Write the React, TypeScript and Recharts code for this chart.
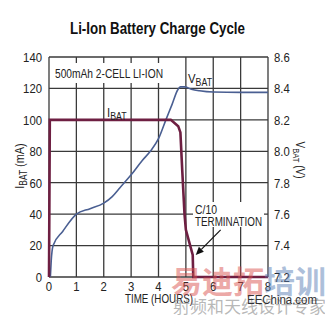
import React from 'react';
import { LineChart, Line, XAxis, YAxis, CartesianGrid, ReferenceLine } from 'recharts';

const FONT = "'Liberation Sans', Arial, sans-serif";
const CJK = "'Noto Sans CJK SC', sans-serif";
const SX = 0.84; // horizontal condensing of the Helvetica-Narrow-like lettering

// Time ticks (hours)
const timeTicks = [0, 1, 2, 3, 4, 5, 6, 7, 8];
// Left axis ticks (mA)
const currentTicks = [0, 20, 40, 60, 80, 100, 120, 140];
// Right axis ticks (V)
const voltageTicks = [7.2, 7.4, 7.6, 7.8, 8.0, 8.2, 8.4, 8.6];

// IBAT series
const currentHours = [0, 0.03, 4.45, 4.72, 4.8, 4.87, 4.95, 5.0, 5.25, 5.27, 8];
const currentMA = [0, 100, 100, 96, 92, 67, 40, 30, 14, 0, 0];

// VBAT series
const voltageHours = [0.05, 0.08, 0.15, 0.5, 1.0, 1.5, 2.0, 2.3, 2.6, 3.0, 3.4, 3.7, 4.0, 4.27, 4.5, 4.7, 4.8, 4.95, 5.2, 5.5, 6.0, 7.0, 8.0];
const voltageV = [7.2, 7.3, 7.4, 7.49, 7.6, 7.635, 7.67, 7.71, 7.77, 7.85, 7.94, 8.0, 8.08, 8.2, 8.3, 8.39, 8.41, 8.41, 8.395, 8.385, 8.377, 8.375, 8.375];

// C/10 termination arrow (tail -> head), in data units
const arrowFrom = { hour: 6.27, mA: 30 };
const arrowTo = { hour: 5.36, mA: 14 };

const currentData = currentHours.map((h, i) => ({ hour: h, mA: currentMA[i] }));
const voltageData = voltageHours.map((h, i) => ({ hour: h, v: voltageV[i] }));

const ArrowShape = (props: any) => {
  const { x1, y1, x2, y2 } = props;
  if ([x1, y1, x2, y2].some((v) => typeof v !== 'number' || isNaN(v))) return null;
  const ang = Math.atan2(y2 - y1, x2 - x1);
  const L = 8, W = 3.5;
  const bx = x2 - L * Math.cos(ang);
  const by = y2 - L * Math.sin(ang);
  const px = -Math.sin(ang) * W;
  const py = Math.cos(ang) * W;
  return (
    <g>
      <line x1={x1} y1={y1} x2={bx} y2={by} stroke="#111" strokeWidth={1.2} />
      <polygon points={`${x2},${y2} ${bx + px},${by + py} ${bx - px},${by - py}`} fill="#111" />
    </g>
  );
};

const makeTick = (anchor: 'start' | 'middle' | 'end', dy: string, fmt?: (v: number) => string) => (props: any) => {
  const { x, y, payload } = props;
  const label = fmt ? fmt(payload.value) : String(payload.value);
  return (
    <text transform={`translate(${x},${y}) scale(${SX},1)`} textAnchor={anchor} dy={dy} fontSize={13.5} fill="#222" fontFamily={FONT}>
      {label}
    </text>
  );
};

const XTick = makeTick('middle', '0.75em');
const LTick = makeTick('end', '0.36em');
const RTick = makeTick('start', '0.36em', (v) => v.toFixed(1));

export default function App() {
  return (
    <div style={{ position: 'absolute', left: 0, top: 0, width: 325, height: 318, background: '#fff', fontFamily: FONT }}>
      <LineChart width={325} height={318} margin={{ top: 57, right: 0, bottom: 11, left: 0 }}>
        <CartesianGrid xAxisId="x" yAxisId="left" stroke="#3a3a3a" strokeWidth={1.3} horizontalValues={currentTicks} verticalValues={timeTicks} />
        <XAxis xAxisId="x" type="number" dataKey="hour" domain={[0, 8]} ticks={timeTicks} allowDuplicatedCategory={false}
          height={30} tickLine={false} axisLine={false} tickSize={0} tickMargin={4}
          tick={XTick} interval={0} />
        <YAxis yAxisId="left" orientation="left" domain={[0, 140]} ticks={currentTicks} width={49}
          tickLine={false} axisLine={false} tickSize={0} tickMargin={7}
          tick={LTick} interval={0} />
        <YAxis yAxisId="right" orientation="right" domain={[7.2, 8.6]} ticks={voltageTicks} width={57}
          tickLine={false} axisLine={false} tickSize={0} tickMargin={6}
          tick={RTick} interval={0} />
        <Line xAxisId="x" yAxisId="right" data={voltageData} dataKey="v" type="monotone" stroke="#4a5f92" strokeWidth={1.6} dot={false} isAnimationActive={false} />
        <Line xAxisId="x" yAxisId="left" data={currentData} dataKey="mA" type="linear" stroke="#6e1f42" strokeWidth={2.6} dot={false} isAnimationActive={false} />
        <ReferenceLine xAxisId="x" yAxisId="left" segment={[{ x: arrowFrom.hour, y: arrowFrom.mA }, { x: arrowTo.hour, y: arrowTo.mA }]} shape={ArrowShape} ifOverflow="visible" />
      </LineChart>
      <svg width={325} height={318} style={{ position: 'absolute', left: 0, top: 0, pointerEvents: 'none' }}>
        <text x={70} y={34} textLength={175} lengthAdjust="spacingAndGlyphs" fontSize={17} fontWeight="bold" fill="#111" fontFamily={FONT}>Li-Ion Battery Charge Cycle</text>
        <rect x={51} y={63} width={118} height={20} fill="#fff" />
        <text x={55} y={78} textLength={108} lengthAdjust="spacingAndGlyphs" fontSize={12.5} fill="#222" fontFamily={FONT}>500mAh 2-CELL LI-ION</text>
        <text transform={`translate(107,117) scale(${SX},1)`} fontSize={13.5} fill="#222" fontFamily={FONT}>I<tspan fontSize={10.5} dy={3}>BAT</tspan></text>
        <text transform={`translate(188,83) scale(${SX},1)`} fontSize={13.5} fill="#222" fontFamily={FONT}>V<tspan fontSize={10.5} dy={3}>BAT</tspan></text>
        <rect x={193} y={202} width={71} height={25} fill="#fff" />
        <text x={195} y={213.5} textLength={22} lengthAdjust="spacingAndGlyphs" fontSize={12.5} fill="#222" fontFamily={FONT}>C/10</text>
        <text x={195} y={225.5} textLength={67} lengthAdjust="spacingAndGlyphs" fontSize={12.5} fill="#222" fontFamily={FONT}>TERMINATION</text>
        <text transform={`translate(24,166) rotate(-90) scale(${SX},1)`} textAnchor="middle" fontSize={13} fill="#222" fontFamily={FONT}>I<tspan fontSize={10} dy={3}>BAT</tspan><tspan dy={-3}> (mA)</tspan></text>
        <text transform={`translate(296,160) rotate(90) scale(0.8,1)`} textAnchor="middle" fontSize={12.5} fill="#222" fontFamily={FONT}>V<tspan fontSize={9.5} dy={3}>BAT</tspan><tspan dy={-3}> (V)</tspan></text>
        <text x={125} y={303} textLength={68} lengthAdjust="spacingAndGlyphs" fontSize={13} fill="#222" fontFamily={FONT}>TIME (HOURS)</text>
        <text x={171} y={293} fontSize={31} fontWeight="bold" fill="#d9534f" fillOpacity={0.5} fontFamily={CJK}>易迪拓<tspan fill="#5b7fb5">培训</tspan></text>
        <text x={173} y={313} fontSize={17} fill="#888" fillOpacity={0.6} fontFamily={CJK}>射频和天线设计专家</text>
        <text x={247} y={304} textLength={70} lengthAdjust="spacingAndGlyphs" fontSize={13} fill="#333" fontFamily={FONT}>EEChina.com</text>
      </svg>
    </div>
  );
}
